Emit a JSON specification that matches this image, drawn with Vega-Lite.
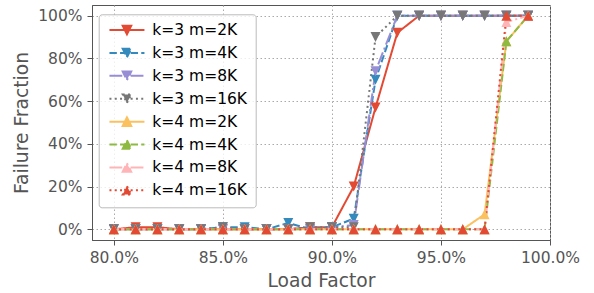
{
  "$schema": "https://vega.github.io/schema/vega-lite/v6.json",
  "width": 458,
  "height": 235,
  "autosize": {"type": "none"},
  "padding": {"left": 92, "top": 5, "right": 44, "bottom": 53},
  "background": "white",
  "config": {
    "font": "DejaVu Sans",
    "view": {"stroke": "#555555", "strokeWidth": 1},
    "axis": {
      "domainColor": "#555555",
      "tickColor": "#555555",
      "tickSize": 5,
      "labelColor": "#555555",
      "titleColor": "#555555",
      "labelFontSize": 15.5,
      "titleFontSize": 18.7,
      "titleFontWeight": "normal",
      "labelPadding": 5,
      "grid": true,
      "gridColor": "#aaaaaa",
      "gridDash": [1.5, 2.5],
      "gridWidth": 1
    },
    "axisX": {"titlePadding": 6, "labelFlush": false},
    "axisY": {"titlePadding": 6},
    "legend": {
      "orient": "none",
      "legendX": 6.7,
      "legendY": 9.3,
      "padding": 8,
      "rowPadding": 4.9,
      "labelFontSize": 15.5,
      "labelColor": "#000000",
      "labelFont": "DejaVu Sans",
      "symbolSize": 100,
      "symbolStrokeWidth": 2,
      "symbolOffset": 12.5,
      "labelOffset": 17.6,
      "strokeColor": "#bbbbbb",
      "fillColor": "rgba(255,255,255,0.8)",
      "cornerRadius": 3
    }
  },
  "data": {
    "values": [
      {"x": 0.80, "y": 0, "s": "k=3 m=2K"}, {"x": 0.81, "y": 0.01, "s": "k=3 m=2K"}, {"x": 0.82, "y": 0.01, "s": "k=3 m=2K"}, {"x": 0.83, "y": 0, "s": "k=3 m=2K"}, {"x": 0.84, "y": 0, "s": "k=3 m=2K"}, {"x": 0.85, "y": 0, "s": "k=3 m=2K"}, {"x": 0.86, "y": 0, "s": "k=3 m=2K"}, {"x": 0.87, "y": 0, "s": "k=3 m=2K"}, {"x": 0.88, "y": 0, "s": "k=3 m=2K"}, {"x": 0.89, "y": 0.01, "s": "k=3 m=2K"}, {"x": 0.90, "y": 0.01, "s": "k=3 m=2K"}, {"x": 0.91, "y": 0.20, "s": "k=3 m=2K"}, {"x": 0.92, "y": 0.57, "s": "k=3 m=2K"}, {"x": 0.93, "y": 0.92, "s": "k=3 m=2K"}, {"x": 0.94, "y": 1, "s": "k=3 m=2K"}, {"x": 0.95, "y": 1, "s": "k=3 m=2K"}, {"x": 0.96, "y": 1, "s": "k=3 m=2K"}, {"x": 0.97, "y": 1, "s": "k=3 m=2K"}, {"x": 0.98, "y": 1, "s": "k=3 m=2K"}, {"x": 0.99, "y": 1, "s": "k=3 m=2K"},
      {"x": 0.80, "y": 0, "s": "k=3 m=4K"}, {"x": 0.81, "y": 0, "s": "k=3 m=4K"}, {"x": 0.82, "y": 0, "s": "k=3 m=4K"}, {"x": 0.83, "y": 0, "s": "k=3 m=4K"}, {"x": 0.84, "y": 0, "s": "k=3 m=4K"}, {"x": 0.85, "y": 0.01, "s": "k=3 m=4K"}, {"x": 0.86, "y": 0.01, "s": "k=3 m=4K"}, {"x": 0.87, "y": 0, "s": "k=3 m=4K"}, {"x": 0.88, "y": 0.03, "s": "k=3 m=4K"}, {"x": 0.89, "y": 0, "s": "k=3 m=4K"}, {"x": 0.90, "y": 0.01, "s": "k=3 m=4K"}, {"x": 0.91, "y": 0.05, "s": "k=3 m=4K"}, {"x": 0.92, "y": 0.70, "s": "k=3 m=4K"}, {"x": 0.93, "y": 1, "s": "k=3 m=4K"}, {"x": 0.94, "y": 1, "s": "k=3 m=4K"}, {"x": 0.95, "y": 1, "s": "k=3 m=4K"}, {"x": 0.96, "y": 1, "s": "k=3 m=4K"}, {"x": 0.97, "y": 1, "s": "k=3 m=4K"}, {"x": 0.98, "y": 1, "s": "k=3 m=4K"}, {"x": 0.99, "y": 1, "s": "k=3 m=4K"},
      {"x": 0.80, "y": 0, "s": "k=3 m=8K"}, {"x": 0.81, "y": 0, "s": "k=3 m=8K"}, {"x": 0.82, "y": 0, "s": "k=3 m=8K"}, {"x": 0.83, "y": 0, "s": "k=3 m=8K"}, {"x": 0.84, "y": 0, "s": "k=3 m=8K"}, {"x": 0.85, "y": 0, "s": "k=3 m=8K"}, {"x": 0.86, "y": 0, "s": "k=3 m=8K"}, {"x": 0.87, "y": 0, "s": "k=3 m=8K"}, {"x": 0.88, "y": 0, "s": "k=3 m=8K"}, {"x": 0.89, "y": 0, "s": "k=3 m=8K"}, {"x": 0.90, "y": 0.01, "s": "k=3 m=8K"}, {"x": 0.91, "y": 0.02, "s": "k=3 m=8K"}, {"x": 0.92, "y": 0.74, "s": "k=3 m=8K"}, {"x": 0.93, "y": 1, "s": "k=3 m=8K"}, {"x": 0.94, "y": 1, "s": "k=3 m=8K"}, {"x": 0.95, "y": 1, "s": "k=3 m=8K"}, {"x": 0.96, "y": 1, "s": "k=3 m=8K"}, {"x": 0.97, "y": 1, "s": "k=3 m=8K"}, {"x": 0.98, "y": 1, "s": "k=3 m=8K"}, {"x": 0.99, "y": 1, "s": "k=3 m=8K"},
      {"x": 0.80, "y": 0, "s": "k=3 m=16K"}, {"x": 0.81, "y": 0, "s": "k=3 m=16K"}, {"x": 0.82, "y": 0, "s": "k=3 m=16K"}, {"x": 0.83, "y": 0, "s": "k=3 m=16K"}, {"x": 0.84, "y": 0, "s": "k=3 m=16K"}, {"x": 0.85, "y": 0.01, "s": "k=3 m=16K"}, {"x": 0.86, "y": 0, "s": "k=3 m=16K"}, {"x": 0.87, "y": 0, "s": "k=3 m=16K"}, {"x": 0.88, "y": 0, "s": "k=3 m=16K"}, {"x": 0.89, "y": 0.01, "s": "k=3 m=16K"}, {"x": 0.90, "y": 0.01, "s": "k=3 m=16K"}, {"x": 0.91, "y": 0.01, "s": "k=3 m=16K"}, {"x": 0.92, "y": 0.90, "s": "k=3 m=16K"}, {"x": 0.93, "y": 1, "s": "k=3 m=16K"}, {"x": 0.94, "y": 1, "s": "k=3 m=16K"}, {"x": 0.95, "y": 1, "s": "k=3 m=16K"}, {"x": 0.96, "y": 1, "s": "k=3 m=16K"}, {"x": 0.97, "y": 1, "s": "k=3 m=16K"}, {"x": 0.98, "y": 1, "s": "k=3 m=16K"}, {"x": 0.99, "y": 1, "s": "k=3 m=16K"},
      {"x": 0.80, "y": 0, "s": "k=4 m=2K"}, {"x": 0.81, "y": 0, "s": "k=4 m=2K"}, {"x": 0.82, "y": 0, "s": "k=4 m=2K"}, {"x": 0.83, "y": 0, "s": "k=4 m=2K"}, {"x": 0.84, "y": 0, "s": "k=4 m=2K"}, {"x": 0.85, "y": 0, "s": "k=4 m=2K"}, {"x": 0.86, "y": 0, "s": "k=4 m=2K"}, {"x": 0.87, "y": 0, "s": "k=4 m=2K"}, {"x": 0.88, "y": 0, "s": "k=4 m=2K"}, {"x": 0.89, "y": 0, "s": "k=4 m=2K"}, {"x": 0.90, "y": 0, "s": "k=4 m=2K"}, {"x": 0.91, "y": 0, "s": "k=4 m=2K"}, {"x": 0.92, "y": 0, "s": "k=4 m=2K"}, {"x": 0.93, "y": 0, "s": "k=4 m=2K"}, {"x": 0.94, "y": 0, "s": "k=4 m=2K"}, {"x": 0.95, "y": 0, "s": "k=4 m=2K"}, {"x": 0.96, "y": 0, "s": "k=4 m=2K"}, {"x": 0.97, "y": 0.07, "s": "k=4 m=2K"}, {"x": 0.98, "y": 0.88, "s": "k=4 m=2K"}, {"x": 0.99, "y": 1, "s": "k=4 m=2K"},
      {"x": 0.80, "y": 0, "s": "k=4 m=4K"}, {"x": 0.81, "y": 0, "s": "k=4 m=4K"}, {"x": 0.82, "y": 0, "s": "k=4 m=4K"}, {"x": 0.83, "y": 0, "s": "k=4 m=4K"}, {"x": 0.84, "y": 0, "s": "k=4 m=4K"}, {"x": 0.85, "y": 0, "s": "k=4 m=4K"}, {"x": 0.86, "y": 0, "s": "k=4 m=4K"}, {"x": 0.87, "y": 0, "s": "k=4 m=4K"}, {"x": 0.88, "y": 0, "s": "k=4 m=4K"}, {"x": 0.89, "y": 0, "s": "k=4 m=4K"}, {"x": 0.90, "y": 0, "s": "k=4 m=4K"}, {"x": 0.91, "y": 0, "s": "k=4 m=4K"}, {"x": 0.92, "y": 0, "s": "k=4 m=4K"}, {"x": 0.93, "y": 0, "s": "k=4 m=4K"}, {"x": 0.94, "y": 0, "s": "k=4 m=4K"}, {"x": 0.95, "y": 0, "s": "k=4 m=4K"}, {"x": 0.96, "y": 0, "s": "k=4 m=4K"}, {"x": 0.97, "y": 0, "s": "k=4 m=4K"}, {"x": 0.98, "y": 0.88, "s": "k=4 m=4K"}, {"x": 0.99, "y": 1, "s": "k=4 m=4K"},
      {"x": 0.80, "y": 0, "s": "k=4 m=8K"}, {"x": 0.81, "y": 0, "s": "k=4 m=8K"}, {"x": 0.82, "y": 0, "s": "k=4 m=8K"}, {"x": 0.83, "y": 0, "s": "k=4 m=8K"}, {"x": 0.84, "y": 0, "s": "k=4 m=8K"}, {"x": 0.85, "y": 0, "s": "k=4 m=8K"}, {"x": 0.86, "y": 0, "s": "k=4 m=8K"}, {"x": 0.87, "y": 0, "s": "k=4 m=8K"}, {"x": 0.88, "y": 0, "s": "k=4 m=8K"}, {"x": 0.89, "y": 0, "s": "k=4 m=8K"}, {"x": 0.90, "y": 0, "s": "k=4 m=8K"}, {"x": 0.91, "y": 0, "s": "k=4 m=8K"}, {"x": 0.92, "y": 0, "s": "k=4 m=8K"}, {"x": 0.93, "y": 0, "s": "k=4 m=8K"}, {"x": 0.94, "y": 0, "s": "k=4 m=8K"}, {"x": 0.95, "y": 0, "s": "k=4 m=8K"}, {"x": 0.96, "y": 0, "s": "k=4 m=8K"}, {"x": 0.97, "y": 0, "s": "k=4 m=8K"}, {"x": 0.98, "y": 0.97, "s": "k=4 m=8K"}, {"x": 0.99, "y": 1, "s": "k=4 m=8K"},
      {"x": 0.80, "y": 0, "s": "k=4 m=16K"}, {"x": 0.81, "y": 0, "s": "k=4 m=16K"}, {"x": 0.82, "y": 0, "s": "k=4 m=16K"}, {"x": 0.83, "y": 0, "s": "k=4 m=16K"}, {"x": 0.84, "y": 0, "s": "k=4 m=16K"}, {"x": 0.85, "y": 0, "s": "k=4 m=16K"}, {"x": 0.86, "y": 0, "s": "k=4 m=16K"}, {"x": 0.87, "y": 0, "s": "k=4 m=16K"}, {"x": 0.88, "y": 0, "s": "k=4 m=16K"}, {"x": 0.89, "y": 0, "s": "k=4 m=16K"}, {"x": 0.90, "y": 0, "s": "k=4 m=16K"}, {"x": 0.91, "y": 0, "s": "k=4 m=16K"}, {"x": 0.92, "y": 0, "s": "k=4 m=16K"}, {"x": 0.93, "y": 0, "s": "k=4 m=16K"}, {"x": 0.94, "y": 0, "s": "k=4 m=16K"}, {"x": 0.95, "y": 0, "s": "k=4 m=16K"}, {"x": 0.96, "y": 0, "s": "k=4 m=16K"}, {"x": 0.97, "y": 0, "s": "k=4 m=16K"}, {"x": 0.98, "y": 1, "s": "k=4 m=16K"}, {"x": 0.99, "y": 1, "s": "k=4 m=16K"}
    ]
  },
  "encoding": {
    "x": {
      "field": "x",
      "type": "quantitative",
      "scale": {"domain": [0.79, 1.0], "nice": false, "zero": false},
      "axis": {"values": [0.8, 0.85, 0.9, 0.95, 1.0], "format": ".1%", "title": "Load Factor"}
    },
    "y": {
      "field": "y",
      "type": "quantitative",
      "scale": {"domain": [-0.05, 1.05], "nice": false, "zero": false},
      "axis": {"values": [0, 0.2, 0.4, 0.6, 0.8, 1.0], "format": ".0%", "title": "Failure Fraction"}
    }
  },
  "layer": [
    {
      "transform": [{"filter": "datum.x > 5"}],
      "mark": {"type": "point", "filled": false, "opacity": 1, "size": 100, "strokeWidth": 2},
      "encoding": {
        "fill": {
          "field": "s",
          "type": "nominal",
          "scale": {
            "domain": ["k=3 m=2K", "k=3 m=4K", "k=3 m=8K", "k=3 m=16K", "k=4 m=2K", "k=4 m=4K", "k=4 m=8K", "k=4 m=16K"],
            "range": ["#E24A33", "#348ABD", "#988ED5", "#777777", "#FBC15E", "#8EBA42", "#FFB5B8", "#E24A33"]
          },
          "legend": {"title": null}
        },
        "stroke": {
          "field": "s",
          "type": "nominal",
          "scale": {
            "domain": ["k=3 m=2K", "k=3 m=4K", "k=3 m=8K", "k=3 m=16K", "k=4 m=2K", "k=4 m=4K", "k=4 m=8K", "k=4 m=16K"],
            "range": ["#E24A33", "#348ABD", "#988ED5", "#777777", "#FBC15E", "#8EBA42", "#FFB5B8", "#E24A33"]
          },
          "legend": {"title": null}
        },
        "strokeDash": {
          "field": "s",
          "type": "nominal",
          "scale": {
            "domain": ["k=3 m=2K", "k=3 m=4K", "k=3 m=8K", "k=3 m=16K", "k=4 m=2K", "k=4 m=4K", "k=4 m=8K", "k=4 m=16K"],
            "range": [[1, 0], [7.4, 3.2], [12.8, 3.2, 2, 3.2], [2, 3.3], [1, 0], [7.4, 3.2], [12.8, 3.2, 2, 3.2], [2, 3.3]]
          },
          "legend": {"title": null}
        },
        "shape": {
          "field": "s",
          "type": "nominal",
          "scale": {
            "domain": ["k=3 m=2K", "k=3 m=4K", "k=3 m=8K", "k=3 m=16K", "k=4 m=2K", "k=4 m=4K", "k=4 m=8K", "k=4 m=16K"],
            "range": [
              "M-3.5,0L3.5,0M-0.85,-0.85L0.85,-0.85L0,0.85Z", "M-3.5,0L3.5,0M-0.85,-0.85L0.85,-0.85L0,0.85Z", "M-3.5,0L3.5,0M-0.85,-0.85L0.85,-0.85L0,0.85Z", "M-3.5,0L3.5,0M-0.85,-0.85L0.85,-0.85L0,0.85Z",
              "M-3.5,0L3.5,0M-0.85,0.85L0.85,0.85L0,-0.85Z", "M-3.5,0L3.5,0M-0.85,0.85L0.85,0.85L0,-0.85Z", "M-3.5,0L3.5,0M-0.85,0.85L0.85,0.85L0,-0.85Z", "M-3.5,0L3.5,0M-0.85,0.85L0.85,0.85L0,-0.85Z"
            ]
          },
          "legend": {"title": null}
        }
      }
    },
    {
      "mark": {"type": "line", "strokeWidth": 2},
      "encoding": {
        "color": {
          "field": "s",
          "type": "nominal",
          "scale": {
            "domain": ["k=3 m=2K", "k=3 m=4K", "k=3 m=8K", "k=3 m=16K", "k=4 m=2K", "k=4 m=4K", "k=4 m=8K", "k=4 m=16K"],
            "range": ["#E24A33", "#348ABD", "#988ED5", "#777777", "#FBC15E", "#8EBA42", "#FFB5B8", "#E24A33"]
          }
        },
        "strokeDash": {"field": "s", "type": "nominal"}
      }
    },
    {
      "mark": {"type": "point", "filled": true, "opacity": 1, "size": 138},
      "encoding": {
        "color": {"field": "s", "type": "nominal"},
        "shape": {"field": "s", "type": "nominal"}
      }
    }
  ]
}
